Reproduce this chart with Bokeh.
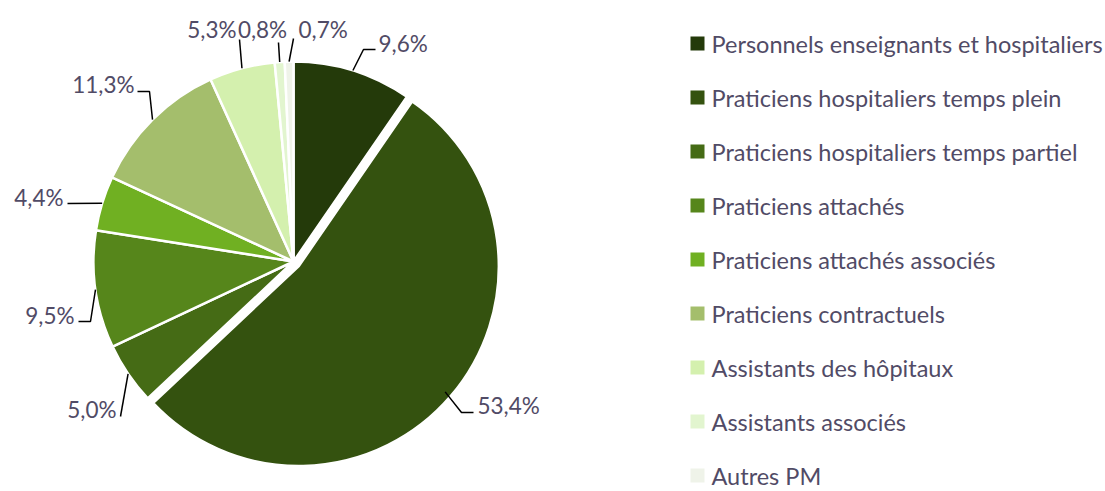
import math
from bokeh.plotting import figure
from bokeh.models import Range1d, ColumnDataSource
from bokeh.core.properties import value
from bokeh.embed import file_html
from bokeh.resources import INLINE

# ---- data ----
categories = [
    "Personnels enseignants et hospitaliers",
    "Praticiens hospitaliers temps plein",
    "Praticiens hospitaliers temps partiel",
    "Praticiens attachés",
    "Praticiens attachés associés",
    "Praticiens contractuels",
    "Assistants des hôpitaux",
    "Assistants associés",
    "Autres PM",
]
shares = [9.6, 53.4, 5.0, 9.5, 4.4, 11.3, 5.3, 0.8, 0.7]
labels = ["9,6%", "53,4%", "5,0%", "9,5%", "4,4%", "11,3%", "5,3%", "0,8%", "0,7%"]
colors = ["#243a0a", "#34520f", "#456b15", "#56861b", "#70b022",
          "#a4be6c", "#d4f0ae", "#e2f5cf", "#eff3e9"]

# ---- layout (image pixel coordinates; y converted below) ----
W, H = 1105, 491
CX, CY, R = 293, 261, 200
EXPLODE = {1: 7}
TEXT_COLOR = "#514b66"
FONT = value("Lato")

def fy(y_img):
    return H - y_img

# label text anchors (x, y, align) and leader elbow points
label_pos = [
    (378, 43, "left"),
    (477, 405, "left"),
    (116, 409, "right"),
    (74, 315, "right"),
    (63, 197, "right"),
    (134, 84, "right"),
    (236, 29, "right"),
    (262, 29, "center"),
    (298, 29, "left"),
]
leader_pts = [
    [(363, 49), (375, 49)],
    [(461, 412), (473, 412)],
    [(120, 416)],
    [(90, 321), (78, 321)],
    [(67, 203)],
    [(149, 91), (137, 91)],
    [(239, 39)],
    [(278, 42)],
    [(293, 38)],
]

p = figure(width=W, height=H, output_backend="svg", toolbar_location=None,
           x_range=Range1d(0, W), y_range=Range1d(0, H),
           x_axis_type=None, y_axis_type=None, min_border=0,
           outline_line_color=None)
p.grid.visible = False
p.background_fill_color = "white"
p.border_fill_color = "white"

total = sum(shares)
xs, ys, starts, ends, mids = [], [], [], [], []
cum = 0.0
for i, s in enumerate(shares):
    a0 = cum / total * 2 * math.pi
    cum += s
    a1 = cum / total * 2 * math.pi
    m = (a0 + a1) / 2
    d = EXPLODE.get(i, 0)
    xs.append(CX + d * math.sin(m))
    ys.append(fy(CY - d * math.cos(m)))
    starts.append(math.pi / 2 - a0)
    ends.append(math.pi / 2 - a1)
    mids.append(m)

src = ColumnDataSource(dict(x=xs, y=ys, start=starts, end=ends, color=colors, cat=categories))
p.wedge(x="x", y="y", radius=R, start_angle="start", end_angle="end",
        direction="clock", fill_color="color", line_color="white", line_width=2.5,
        source=src)

# leader lines
lx, ly = [], []
for i, m in enumerate(mids):
    ax = CX + R * math.sin(m)
    ay = CY - R * math.cos(m)
    pts = [(ax, ay)] + leader_pts[i]
    lx.append([q[0] for q in pts])
    ly.append([fy(q[1]) for q in pts])
p.multi_line(xs=lx, ys=ly, line_color="black", line_width=1.5)

# data labels
for (tx, ty, al), lab in zip(label_pos, labels):
    p.text(x=[tx], y=[fy(ty)], text=[lab], text_align=al, text_baseline="middle",
           text_font=FONT, text_font_size="22.5px", text_color=TEXT_COLOR)

# legend
LEG_X, LEG_Y0, LEG_DY, SQ = 697, 43, 54, 14
ly_leg = [fy(LEG_Y0 + i * LEG_DY) for i in range(len(categories))]
p.rect(x=[LEG_X] * len(categories), y=ly_leg, width=SQ, height=SQ,
       fill_color=colors, line_color=None)
p.text(x=[LEG_X + 14] * len(categories), y=ly_leg, text=categories,
       text_align="left", text_baseline="middle", text_font=FONT,
       text_font_size="23.5px", text_color=TEXT_COLOR)

open("out.html", "w").write(file_html(p, INLINE))
